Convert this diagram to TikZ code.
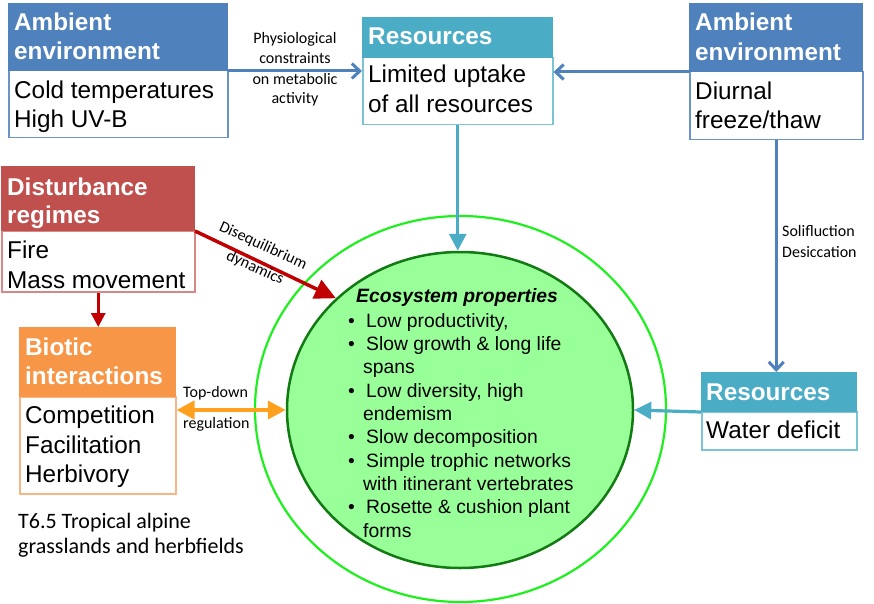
\documentclass[tikz,border=0pt]{standalone}
\usepackage{fontspec}
\setmainfont{Liberation Sans}
\newfontfamily\calfont{Carlito}
\usetikzlibrary{arrows.meta,shapes.geometric}
\definecolor{ablue}{HTML}{4F81BD}
\definecolor{ablueb}{HTML}{6A93C8}
\definecolor{ateal}{HTML}{4BACC6}
\definecolor{atealb}{HTML}{7CC3D6}
\definecolor{ared}{HTML}{C0504D}
\definecolor{aredb}{HTML}{D58886}
\definecolor{aorange}{HTML}{F79646}
\definecolor{aorangeb}{HTML}{FAB586}
\definecolor{darrow}{HTML}{C00000}
\definecolor{oarrow}{HTML}{FFA01E}
\definecolor{cfill}{HTML}{99FF99}
\definecolor{cdark}{HTML}{127A12}
\definecolor{cbright}{HTML}{1EF01E}
\tikzset{
  hdr/.style={draw=#1, fill=#1, line width=1pt, rectangle, inner sep=0pt, anchor=north west},
  bdy/.style={draw=#1, fill=white, line width=1.5pt, rectangle, inner sep=0pt, anchor=north west},
  ttl/.style={font=\fontsize{24.3}{29}\selectfont\bfseries, text=white, inner sep=0pt, anchor=base west},
  btx/.style={font=\fontsize{24.3}{29}\selectfont, text=black, inner sep=0pt, anchor=base west},
  lab/.style={font=\calfont\fontsize{16}{20.5}\selectfont, text=black, inner sep=0pt},
  etx/.style={font=\fontsize{19.3}{23}\selectfont, text=black, inner sep=0pt, anchor=base west},
  barb/.style={line width=3pt, -{Straight Barb[length=8pt,width=15pt]}},
  tri/.style={-{Triangle[length=#1pt,width=#1pt]}},
}
\begin{document}
\begin{tikzpicture}[x=1pt,y=-1pt]
\useasboundingbox (0,0) rectangle (874,604);
% circles
\node[ellipse, draw=cbright, line width=2.2pt, minimum width=411pt, minimum height=386pt, inner sep=0pt] (outer) at (460.5,409) {};
\node[ellipse, draw=cdark, fill=cfill, line width=2.5pt, minimum width=346pt, minimum height=316pt, inner sep=0pt] (inner) at (460,410) {};
% ambient left
\node[bdy=ablueb, minimum width=219pt, minimum height=67pt] (A1b) at (8,70) {};
\node[hdr=ablue, minimum width=219pt, minimum height=67pt] (A1h) at (8,3) {};
\node[ttl] (A1t1) at (14,31) {Ambient};
\node[ttl] (A1t2) at (14,60) {environment};
\node[btx] (A1x1) at (14,99) {Cold temperatures};
\node[btx] (A1x2) at (14,128) {High UV-B};
% resources top
\node[bdy=atealb, minimum width=190pt, minimum height=67pt] (R1b) at (362,57) {};
\node[hdr=ateal, minimum width=190pt, minimum height=40pt] (R1h) at (362,17) {};
\node[ttl] (R1t) at (368,45) {Resources};
\node[btx] (R1x1) at (368,83) {Limited uptake};
\node[btx] (R1x2) at (368,113) {of all resources};
% ambient right
\node[bdy=ablueb, minimum width=173pt, minimum height=68pt] (A2b) at (689,71) {};
\node[hdr=ablue, minimum width=173pt, minimum height=68pt] (A2h) at (689,3) {};
\node[ttl] (A2t1) at (695,31) {Ambient};
\node[ttl] (A2t2) at (695,61) {environment};
\node[btx] (A2x1) at (695,100) {Diurnal};
\node[btx] (A2x2) at (695,129) {freeze/thaw};
% resources right
\node[bdy=atealb, minimum width=155pt, minimum height=38pt] (R2b) at (701,411) {};
\node[hdr=ateal, minimum width=155pt, minimum height=39pt] (R2h) at (701,372) {};
\node[ttl] (R2t) at (706,400) {Resources};
\node[btx] (R2x) at (706,438) {Water deficit};
% disturbance
\node[bdy=aredb, minimum width=193pt, minimum height=61pt] (Db) at (1,230) {};
\node[hdr=ared, minimum width=193pt, minimum height=64pt] (Dh) at (1,166) {};
\node[ttl] (Dt1) at (7,195) {Disturbance};
\node[ttl] (Dt2) at (7,223) {regimes};
\node[btx] (Dx1) at (7,258) {Fire};
\node[btx] (Dx2) at (7,288) {Mass movement};
% biotic
\node[bdy=aorangeb, minimum width=156pt, minimum height=97pt] (Bb) at (19,396) {};
\node[hdr=aorange, minimum width=156pt, minimum height=69pt] (Bh) at (19,327) {};
\node[ttl] (Bt1) at (25,355) {Biotic};
\node[ttl] (Bt2) at (25,384) {interactions};
\node[btx] (Bx1) at (25,423) {Competition};
\node[btx] (Bx2) at (25,453) {Facilitation};
\node[btx] (Bx3) at (25,482) {Herbivory};
% arrows
\draw[barb, draw=ablue] (A1h.south east) -- (A1h.south east -| R1b.west);
\draw[barb, draw=ablue] (A2h.south west) -- (A2h.south west -| R1b.east);
\draw[barb, draw=ablue] (A2b.south) -- (A2b.south |- R2h.north);
\draw[line width=3.2pt, draw=ateal, fill=ateal, tri=17] (R1b.south) -- (R1b.south |- inner.north);
\draw[line width=3.2pt, draw=ateal, fill=ateal, tri=17] (R2h.south west) -- (inner.east);
\draw[line width=3.5pt, draw=darrow, fill=darrow, -{Triangle[length=21pt,width=20pt]}] (Dh.south east) -- (inner.138);
\draw[line width=3pt, draw=darrow, fill=darrow, -{Triangle[length=14pt,width=14pt]}] (Db.south) -- (Db.south |- Bh.north);
\draw[line width=4pt, draw=oarrow, fill=oarrow, {Triangle[length=18pt,width=18pt]}-{Triangle[length=18pt,width=18pt]}] (Bb.east |- inner.west) -- (inner.west);
% labels
\node[lab, anchor=base] (L1a) at (295,44) {Physiological};
\node[lab, anchor=base] (L1b) at (295,64) {constraints};
\node[lab, anchor=base] (L1c) at (295,85) {on metabolic};
\node[lab, anchor=base] (L1d) at (295,104) {activity};
\node[lab, anchor=base west] (L2a) at (782,236) {Solifluction};
\node[lab, anchor=base west] (L2b) at (782,257) {Desiccation};
\node[lab, anchor=base west] (L3a) at (183,397) {Top-down};
\node[lab, anchor=base west] (L3b) at (183,428) {regulation};
\node[lab, rotate=-24.5] (L4a) at (263,246) {Disequilibrium};
\node[lab, rotate=-24.5] (L4b) at (255,268) {dynamics};
\node[font=\calfont\fontsize{22}{25}\selectfont, inner sep=0pt, anchor=base west] (cap1) at (18,528) {T6.5 Tropical alpine};
\node[font=\calfont\fontsize{22}{25}\selectfont, inner sep=0pt, anchor=base west] (cap2) at (18,553) {grasslands and herbfields};
% ecosystem text
\node[etx, font=\fontsize{19.3}{23}\selectfont\bfseries\itshape] (E0) at (356,302) {Ecosystem properties};
\node[etx] (b1) at (348,327) {•};
\node[etx] (E1) at (366,327) {Low productivity,};
\node[etx] (b2) at (348,350) {•};
\node[etx] (E2) at (366,350) {Slow growth \& long life};
\node[etx] (E2b) at (363,373) {spans};
\node[etx] (b3) at (348,397) {•};
\node[etx] (E3) at (366,397) {Low diversity, high};
\node[etx] (E3b) at (363,420) {endemism};
\node[etx] (b4) at (348,443) {•};
\node[etx] (E4) at (366,443) {Slow decomposition};
\node[etx] (b5) at (348,467) {•};
\node[etx] (E5) at (366,467) {Simple trophic networks};
\node[etx] (E5b) at (363,490) {with itinerant vertebrates};
\node[etx] (b6) at (348,513) {•};
\node[etx] (E6) at (366,513) {Rosette \& cushion plant};
\node[etx] (E6b) at (363,537) {forms};
\end{tikzpicture}
\end{document}
